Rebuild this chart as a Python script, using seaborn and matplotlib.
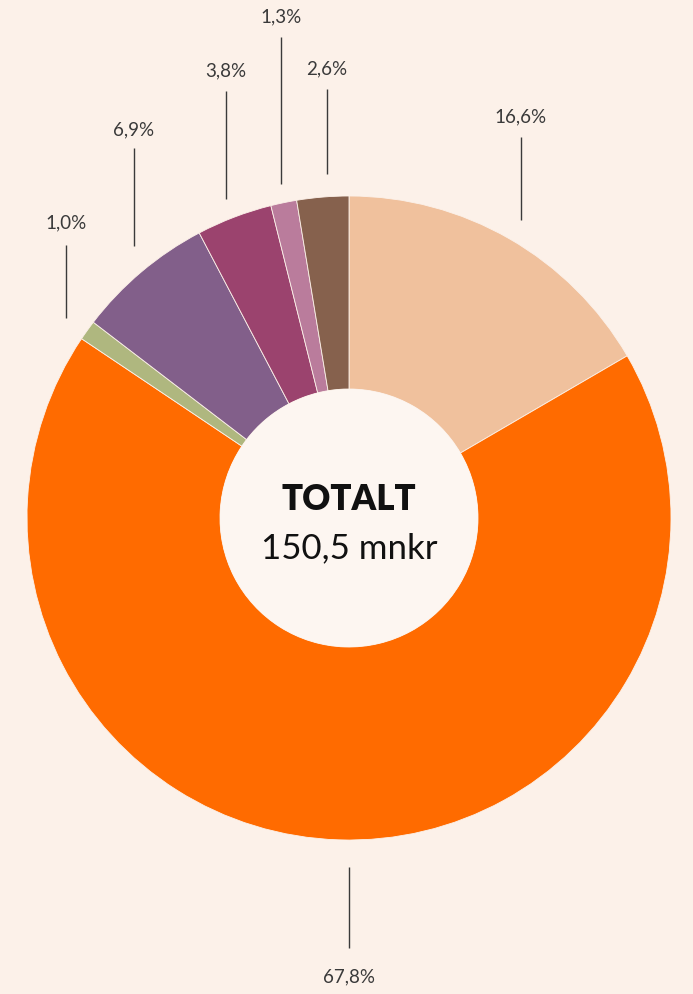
import matplotlib
matplotlib.use("Agg")
import matplotlib.pyplot as plt
from matplotlib.patches import Circle
import seaborn as sns

# ---- data ----
shares = [16.6, 67.8, 1.0, 6.9, 3.8, 1.3, 2.6]
labels = ["16,6%", "67,8%", "1,0%", "6,9%", "3,8%", "1,3%", "2,6%"]
colors = ["#F0C19D", "#FF6B00", "#AFB77F", "#825F8A", "#9B436E", "#BA7C9C", "#86614D"]
center_title = "TOTALT"
center_value = "150,5 mnkr"

BG = "#FCF1E9"
HOLE = "#FDF6F1"

sns.set_theme(style="white", rc={"figure.facecolor": BG, "axes.facecolor": BG})
plt.rcParams["font.family"] = ["Lato", "DejaVu Sans"]

W, H = 693, 994
fig = plt.figure(figsize=(W / 100, H / 100), dpi=100)
ax = fig.add_axes([0, 0, 1, 1])

cx, cy = 349, H - 518
R_out, R_in = 322, 129

ax.pie(shares, colors=colors, startangle=90, counterclock=False,
       center=(cx, cy), radius=R_out,
       wedgeprops=dict(width=R_out - R_in, edgecolor=BG, linewidth=0.6))
ax.add_patch(Circle((cx, cy), R_in, facecolor=HOLE, edgecolor="none", zorder=5))

ax.set_xlim(0, W)
ax.set_ylim(0, H)
ax.set_aspect("equal")
ax.axis("off")

# label layout (pixel coords from top): x, line top, line bottom, text y
layout = [
    (521, 137, 220, 117),
    (349, 867, 948, 977),
    (66, 245, 318, 223),
    (134, 148, 246, 130),
    (226, 91, 199, 71),
    (281, 37, 184, 17),
    (327, 89, 174, 69),
]
for lab, (x, y0, y1, yt) in zip(labels, layout):
    ax.plot([x, x], [H - y0, H - y1], color="#3a3a3a", lw=1.0, solid_capstyle="butt")
    ax.text(x, H - yt, lab, ha="center", va="center", fontsize=13.5,
            color="#3a3a3a", fontweight="normal")

ax.text(cx, H - 500, center_title, ha="center", va="center", fontsize=25,
        fontweight="heavy", color="#111111", zorder=6)
ax.text(cx, H - 548, center_value, ha="center", va="center", fontsize=25,
        color="#111111", zorder=6)

fig.savefig("out.png", dpi=100, facecolor=BG)
